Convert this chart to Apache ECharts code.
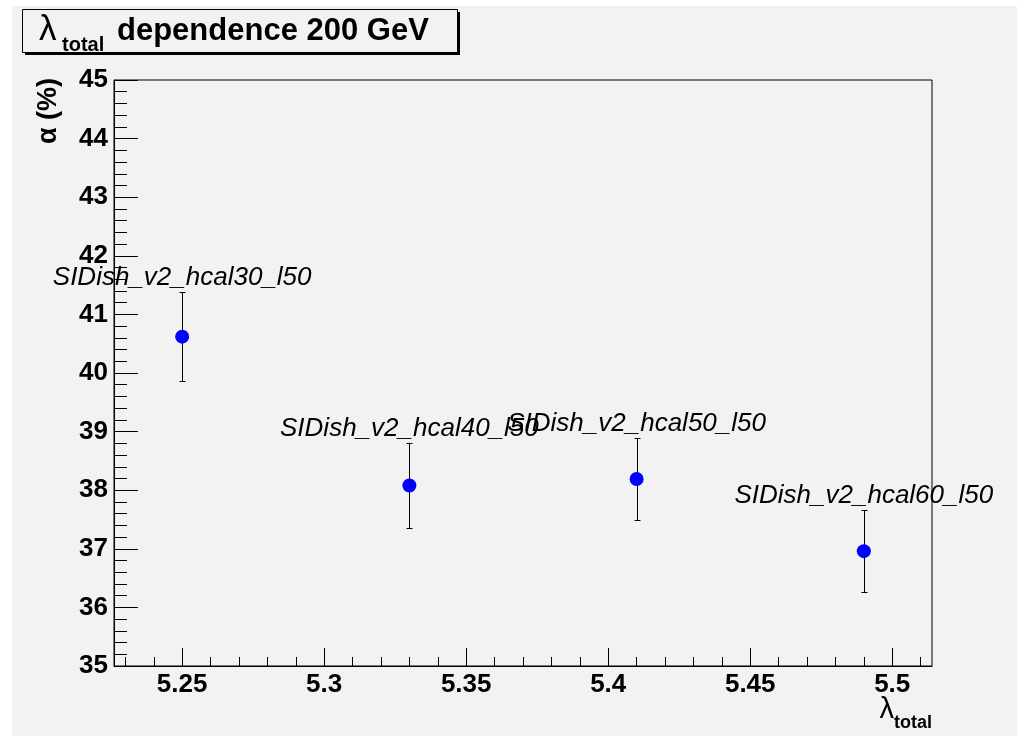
<!DOCTYPE html>
<html><head><meta charset="utf-8">
<script src="https://cdn.jsdelivr.net/npm/echarts@6/dist/echarts.min.js"></script>
<style>html,body{margin:0;padding:0;background:#fff}#c{width:1017px;height:736px}</style>
</head><body><div id="c"></div>
<script>
// ---- data ----
const lambdaTotal = [5.25, 5.33, 5.41, 5.49];
const alphaPct    = [40.62, 38.08, 38.19, 36.96];
const alphaErr    = [0.76, 0.73, 0.70, 0.70];
const pointLabels = ['SIDish_v2_hcal30_l50', 'SIDish_v2_hcal40_l50', 'SIDish_v2_hcal50_l50', 'SIDish_v2_hcal60_l50'];
const xTicks = [5.25, 5.3, 5.35, 5.4, 5.45, 5.5];
const xRange = [5.226, 5.514];
const yRange = [35, 45];
const titleParts = ['λ', 'total', 'dependence 200 GeV'];
const yTitle = 'α (%)';
const xTitleParts = ['λ', 'total'];

const FF = '"Liberation Sans", Arial, Helvetica, sans-serif';
const minorX = [];
for (let k = Math.ceil(xRange[0] * 100 - 1e-6); k <= Math.floor(xRange[1] * 100 + 1e-6); k++) {
  if (k % 5 !== 0) minorX.push(k / 100);
}
const errData = lambdaTotal.map((x, i) => [x, alphaPct[i], alphaPct[i] - alphaErr[i], alphaPct[i] + alphaErr[i]]);
const ptData = lambdaTotal.map((x, i) => [x, alphaPct[i]]);

const chart = echarts.init(document.getElementById('c'), null, {renderer: 'canvas'});
const px = v => Math.round(v) + 0.5;
chart.setOption({
  animation: false,
  backgroundColor: '#ffffff',
  graphic: [
    {type: 'rect', z: -100, shape: {x: 12, y: 6, width: 1005, height: 730}, style: {fill: '#f2f2f2'}},
    {type: 'rect', z: 100, shape: {x: 25, y: 12, width: 435, height: 43}, style: {fill: '#000'}},
    {type: 'rect', z: 101, shape: {x: 22.5, y: 9.5, width: 435, height: 43}, style: {fill: '#f2f2f2', stroke: '#000', lineWidth: 1}},
    {type: 'text', z: 102, x: 39, y: 48, style: {text: titleParts[0], font: '35px ' + FF, fill: '#000', align: 'left', verticalAlign: 'bottom'}},
    {type: 'text', z: 102, x: 62, y: 55, style: {text: titleParts[1], font: 'bold 20px ' + FF, fill: '#000', align: 'left', verticalAlign: 'bottom'}},
    {type: 'text', z: 102, x: 117, y: 47, style: {text: titleParts[2], font: 'bold 31px ' + FF, fill: '#000', align: 'left', verticalAlign: 'bottom'}},
    {type: 'text', z: 102, x: 49, y: 78, rotation: Math.PI / 2, style: {text: yTitle, font: 'bold 27px ' + FF, fill: '#000', align: 'right', verticalAlign: 'middle'}},
    {type: 'text', z: 102, x: 894, y: 724, style: {text: xTitleParts[0], font: '29px ' + FF, fill: '#000', align: 'right', verticalAlign: 'bottom'}},
    {type: 'text', z: 102, x: 932, y: 732, style: {text: xTitleParts[1], font: 'bold 18px ' + FF, fill: '#000', align: 'right', verticalAlign: 'bottom'}}
  ],
  grid: {left: 114, top: 80, right: 85, bottom: 70, show: true, borderColor: '#000', borderWidth: 1, backgroundColor: 'transparent'},
  xAxis: [
    {
      type: 'value', min: xRange[0], max: xRange[1],
      splitLine: {show: false},
      axisLine: {show: true, onZero: false, lineStyle: {color: '#000', width: 1}},
      axisTick: {show: true, inside: true, length: 18, customValues: xTicks, lineStyle: {color: '#000'}},
      axisLabel: {customValues: xTicks, margin: 6, color: '#000', fontFamily: FF, fontWeight: 'bold', fontSize: 26, formatter: v => String(v)}
    },
    {
      type: 'value', min: xRange[0], max: xRange[1], position: 'bottom', offset: 0,
      splitLine: {show: false},
      axisLine: {show: false, onZero: false},
      axisLabel: {show: false},
      axisTick: {show: true, inside: true, length: 9, customValues: minorX, lineStyle: {color: '#000'}}
    }
  ],
  yAxis: {
    type: 'value', min: yRange[0], max: yRange[1], interval: 1,
    splitLine: {show: false},
    axisLine: {show: true, onZero: false, lineStyle: {color: '#000', width: 1}},
    axisTick: {show: true, inside: true, length: 24, lineStyle: {color: '#000'}},
    minorTick: {show: true, splitNumber: 5, length: 13, lineStyle: {color: '#000'}},
    axisLabel: {margin: 6, color: '#000', fontFamily: FF, fontWeight: 'bold', fontSize: 26}
  },
  series: [
    {
      type: 'custom', data: errData, z: 3,
      renderItem: (params, api) => {
        const x = api.value(0);
        const t = api.coord([x, api.value(3)]);
        const b = api.coord([x, api.value(2)]);
        const cx = px(t[0]);
        const st = {stroke: '#000', lineWidth: 1};
        return {type: 'group', children: [
          {type: 'line', shape: {x1: cx, y1: t[1], x2: cx, y2: b[1]}, style: st},
          {type: 'line', shape: {x1: cx - 3, y1: px(t[1]), x2: cx + 3, y2: px(t[1])}, style: st},
          {type: 'line', shape: {x1: cx - 3, y1: px(b[1]), x2: cx + 3, y2: px(b[1])}, style: st}
        ]};
      }
    },
    {
      type: 'scatter', data: ptData, z: 4, symbol: 'circle', symbolSize: 14,
      itemStyle: {color: '#0000ff', opacity: 1}
    },
    {
      type: 'custom', data: errData, z: 5,
      renderItem: (params, api) => {
        const p = api.coord([api.value(0), api.value(3)]);
        return {type: 'text', x: p[0], y: p[1] - 1, style: {
          text: pointLabels[params.dataIndex], font: 'italic 26px ' + FF, fill: '#000',
          align: 'center', verticalAlign: 'bottom'
        }};
      }
    }
  ]
});
</script></body></html>
